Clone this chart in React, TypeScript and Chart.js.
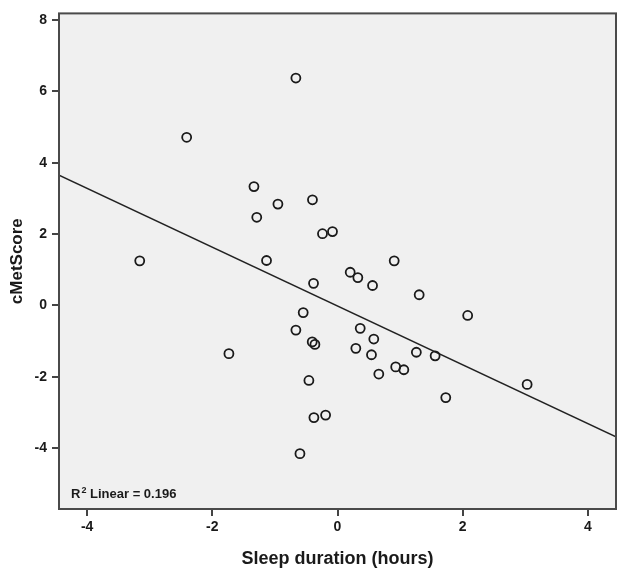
import React, { useEffect, useRef } from "react";
import { Chart, registerables } from "chart.js";

Chart.register(...registerables);

// Sleep duration (hours) — x values of each observation
const sleepHours = [
  -0.665, -2.41, -1.335, -0.952, -0.4, -1.29, -3.16, -1.134, -0.383, -0.24,
  -0.08, 0.906, 0.203, 0.325, 0.56, 1.305, 2.08, -0.548, 0.363, 0.58,
  -0.404, -0.361, 0.293, 0.543, 1.26, 1.56, 0.93, 1.06, 0.66, 3.03,
  1.73, -0.457, -0.377, -0.19, -0.6, -0.665, -1.735,
];
// cMetScore — y values of each observation
const cMetScore = [
  6.37, 4.71, 3.33, 2.84, 2.96, 2.47, 1.25, 1.26, 0.62, 2.01,
  2.07, 1.25, 0.93, 0.78, 0.56, 0.3, -0.28, -0.2, -0.64, -0.94,
  -1.02, -1.09, -1.2, -1.38, -1.31, -1.41, -1.72, -1.8, -1.92, -2.21,
  -2.58, -2.1, -3.14, -3.07, -4.15, -0.69, -1.35,
];
// Fit line end points
const fitX = [-4.45, 4.45];
const fitY = [3.65, -3.68];
const rSquared = "0.196";

const xTitle = "Sleep duration (hours)";
const yTitle = "cMetScore";

export default function App() {
  const ref = useRef<HTMLCanvasElement | null>(null);

  useEffect(() => {
    if (!ref.current) return;
    const points = sleepHours.map((x, i) => ({ x, y: cMetScore[i] }));
    const line = fitX.map((x, i) => ({ x, y: fitY[i] }));

    const framePlugin = {
      id: "frame",
      beforeDraw(chart: any) {
        const { ctx, chartArea: a } = chart;
        ctx.save();
        ctx.fillStyle = "#ffffff";
        ctx.fillRect(0, 0, chart.width, chart.height);
        ctx.fillStyle = "#f0f0f0";
        ctx.fillRect(a.left, a.top, a.right - a.left, a.bottom - a.top);
        ctx.restore();
      },
      afterDraw(chart: any) {
        const { ctx, chartArea: a } = chart;
        ctx.save();
        ctx.strokeStyle = "#4a4a4a";
        ctx.lineWidth = 2;
        ctx.strokeRect(a.left, a.top, a.right - a.left, a.bottom - a.top);
        // R² annotation
        const x0 = a.left + 12;
        const yBase = a.bottom - 11;
        ctx.fillStyle = "#1a1a1a";
        ctx.textBaseline = "alphabetic";
        ctx.font = "bold 13px 'Liberation Sans', Arial, sans-serif";
        ctx.fillText("R", x0, yBase);
        const rw = ctx.measureText("R").width;
        ctx.font = "bold 9px 'Liberation Sans', Arial, sans-serif";
        ctx.fillText("2", x0 + rw + 1, yBase - 5);
        const sw = ctx.measureText("2").width;
        ctx.font = "bold 13px 'Liberation Sans', Arial, sans-serif";
        ctx.fillText(" Linear = " + rSquared, x0 + rw + 1 + sw, yBase);
        ctx.restore();
      },
    };

    const tickFont = { family: "'Liberation Sans', Arial, sans-serif", size: 14, weight: "bold" as const };

    const chart = new Chart(ref.current, {
      type: "scatter",
      data: {
        datasets: [
          {
            type: "scatter",
            data: points,
            pointStyle: "circle",
            pointRadius: 4.5,
            pointBorderWidth: 1.8,
            borderColor: "#1a1a1a",
            backgroundColor: "rgba(0,0,0,0)",
            order: 1,
          },
          {
            type: "line",
            data: line,
            showLine: true,
            pointRadius: 0,
            borderColor: "#222222",
            borderWidth: 1.5,
            fill: false,
            order: 2,
          } as any,
        ],
      },
      options: {
        responsive: false,
        animation: false,
        layout: { padding: { left: 0, top: 8, right: 8, bottom: 0 } },
        plugins: {
          legend: { display: false },
          tooltip: { enabled: false },
        },
        scales: {
          x: {
            type: "linear",
            min: -4.45,
            max: 4.45,
            afterFit(scale: any) {
              scale.height = 68;
            },
            ticks: {
              stepSize: 2,
              includeBounds: false,
              color: "#1a1a1a",
              font: tickFont,
              padding: 3,
            },
            grid: {
              drawOnChartArea: false,
              drawTicks: true,
              tickLength: 7,
              color: "#444444",
              lineWidth: 2,
            },
            border: { display: false },
            title: {
              display: true,
              text: xTitle,
              color: "#1a1a1a",
              font: { family: "'Liberation Sans', Arial, sans-serif", size: 18, weight: "bold" },
              padding: { top: 0, bottom: 7 },
            },
          },
          y: {
            type: "linear",
            min: -5.7,
            max: 8.18,
            afterFit(scale: any) {
              scale.width = 59;
            },
            ticks: {
              stepSize: 2,
              includeBounds: false,
              color: "#1a1a1a",
              font: tickFont,
              padding: 5,
            },
            grid: {
              drawOnChartArea: false,
              drawTicks: true,
              tickLength: 7,
              color: "#444444",
              lineWidth: 2,
            },
            border: { display: false },
            title: {
              display: true,
              text: yTitle,
              color: "#1a1a1a",
              font: { family: "'Liberation Sans', Arial, sans-serif", size: 17, weight: "bold" },
              padding: { top: 7, bottom: 0 },
            },
          },
        },
      },
      plugins: [framePlugin],
    });
    return () => chart.destroy();
  }, []);

  return (
    <div style={{ position: "fixed", left: 0, top: 0, width: 624, height: 577, background: "#fff" }}>
      <canvas ref={ref} width={624} height={577} style={{ display: "block" }} />
    </div>
  );
}
